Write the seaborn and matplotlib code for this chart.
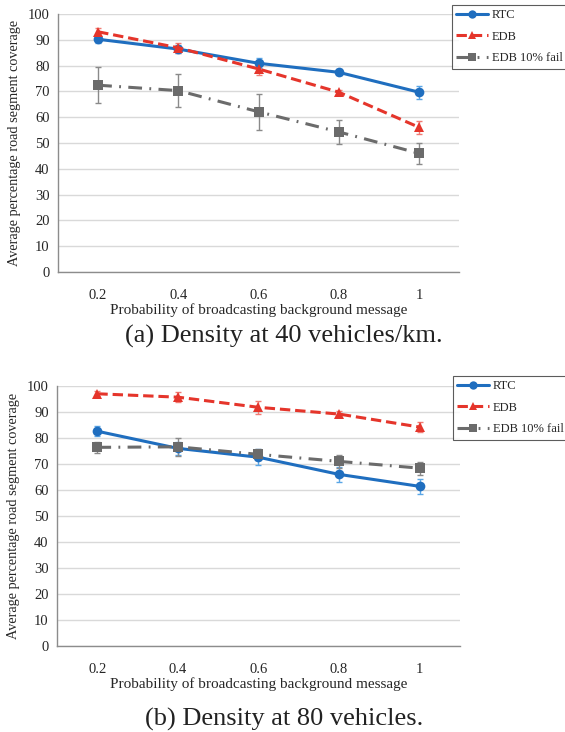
import numpy as np
import pandas as pd
import seaborn as sns
import matplotlib.pyplot as plt

# datos
probs = [0.2, 0.4, 0.6, 0.8, 1.0]
prob_labels = ["0.2", "0.4", "0.6", "0.8", "1"]
series_names = ["RTC", "EDB", "EDB 10% fail"]

# (a) 40 vehiculos/km
rtc_40 = [90.2, 86.4, 80.9, 77.4, 69.7]
rtc_40_err = [1.5, 1.5, 2.0, 1.2, 2.5]
edb_40 = [93.1, 86.9, 78.7, 69.7, 56.1]
edb_40_err = [1.5, 2.0, 2.5, 1.0, 2.5]
fail_40 = [72.4, 70.3, 62.1, 54.3, 46.0]
fail_40_err = [7.0, 6.4, 7.0, 4.5, 4.0]

# (b) 80 vehiculos
rtc_80 = [82.6, 76.0, 72.6, 66.0, 61.4]
rtc_80_err = [2.0, 2.5, 3.0, 3.0, 3.0]
edb_80 = [97.0, 95.7, 91.8, 89.2, 84.2]
edb_80_err = [1.0, 2.0, 2.5, 1.0, 2.0]
fail_80 = [76.4, 76.6, 73.7, 71.0, 68.4]
fail_80_err = [2.0, 3.5, 2.0, 2.5, 2.5]

colors = {"RTC": "#1f6ebf", "EDB": "#e5352b", "EDB 10% fail": "#6b6b6b"}
err_colors = {"RTC": "#5aa6e6", "EDB": "#f07c74", "EDB 10% fail": "#8a8a8a"}
dashes = {"RTC": "", "EDB": (3.4, 1.6), "EDB 10% fail": (4.5, 2.4, 0.6, 2.4)}
markers = {"RTC": "o", "EDB": "^", "EDB 10% fail": "s"}


def build_frame(rtc, edb, fail, rtc_e, edb_e, fail_e):
    rows = []
    for name, vals, errs in zip(series_names, [rtc, edb, fail], [rtc_e, edb_e, fail_e]):
        for p, v, e in zip(probs, vals, errs):
            rows.append({"prob": p, "cov": v, "err": e, "serie": name})
    return pd.DataFrame(rows)


sns.set_style("white")
plt.rcParams['font.family'] = ['Liberation Serif', 'DejaVu Serif']

fig = plt.figure(figsize=(5.65, 7.32), dpi=100)
ax_a = fig.add_axes([0.1027, 0.6284, 0.7097, 0.3525])
ax_b = fig.add_axes([0.101, 0.1175, 0.713, 0.3552])

panels = [
    (ax_a, build_frame(rtc_40, edb_40, fail_40, rtc_40_err, edb_40_err, fail_40_err),
     "(a) Density at 40 vehicles/km.", 0.54, (452 / 565, 1 - 5 / 732)),
    (ax_b, build_frame(rtc_80, edb_80, fail_80, rtc_80_err, edb_80_err, fail_80_err),
     "(b) Density at 80 vehicles.", 0.017, (453 / 565, 1 - 376 / 732)),
]

for ax, df, caption, cap_y, leg_pos in panels:
    ax.set_axisbelow(True)
    ax.grid(axis="y", color="#d9d9d9", linewidth=1.0)
    # barras de error primero
    for name in series_names:
        d = df[df["serie"] == name]
        ax.errorbar(d["prob"], d["cov"], yerr=d["err"], fmt="none",
                    ecolor=err_colors[name], elinewidth=1.0, capsize=2.5, zorder=2)
    sns.lineplot(data=df, x="prob", y="cov", hue="serie", style="serie",
                 palette=colors, dashes=dashes, markers=markers,
                 markersize=7, linewidth=2.2, markeredgewidth=0,
                 ax=ax, legend=False, zorder=3)
    ax.set_xlim(0.1, 1.1)
    ax.set_ylim(0, 100)
    ax.set_xticks(probs)
    ax.set_xticklabels(prob_labels)
    ax.set_yticks(range(0, 101, 10))
    ax.tick_params(axis="both", length=0, labelsize=10.5, pad=6)
    ax.tick_params(axis="x", pad=12)
    for s in ["top", "right"]:
        ax.spines[s].set_visible(False)
    for s in ["left", "bottom"]:
        ax.spines[s].set_color("#8c8c8c")
        ax.spines[s].set_linewidth(1.0)
    ax.set_xlabel("Probability of broadcasting background message", fontsize=11, labelpad=1)
    ax.set_ylabel("Average percentage road segment coverage", fontsize=10.3, labelpad=5)

    handles = []
    for name in series_names:
        h, = ax.plot([], [], color=colors[name], marker=markers[name], markersize=6,
                     markeredgewidth=0, linewidth=2.2,
                     dashes=dashes[name] if dashes[name] else (None, None))
        handles.append(h)
    leg = fig.legend(handles, series_names, loc="upper left", bbox_to_anchor=leg_pos,
                     frameon=True, fancybox=False, fontsize=9, handlelength=2.5,
                     borderpad=0.35, labelspacing=0.75, handletextpad=0.35,
                     borderaxespad=0)
    leg.get_frame().set_edgecolor("#333333")
    leg.get_frame().set_linewidth(0.8)

    fig.text(0.503, cap_y, caption, ha="center", va="center", fontsize=19, color="#222222")

fig.savefig("out.png", dpi=100)
